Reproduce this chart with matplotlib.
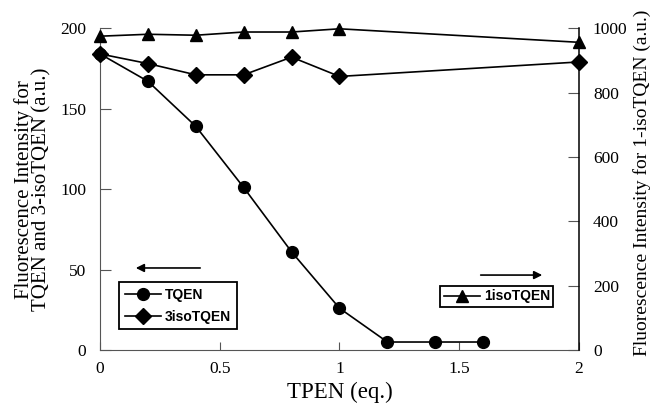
import matplotlib
matplotlib.use("Agg")
import matplotlib.pyplot as plt
from matplotlib.lines import Line2D

# data
x_tqen = [0, 0.2, 0.4, 0.6, 0.8, 1.0, 1.2, 1.4, 1.6]
y_tqen = [184, 167, 139, 101, 61, 26, 5, 5, 5]

x_3iso = [0, 0.2, 0.4, 0.6, 0.8, 1.0, 2.0]
y_3iso = [184, 178, 171, 171, 182, 170, 179]

x_1iso = [0, 0.2, 0.4, 0.6, 0.8, 1.0, 2.0]
y_1iso = [975, 981, 978, 988, 988, 998, 956]

xticks = [0, 0.5, 1, 1.5, 2]
xticklabels = ["0", "0.5", "1", "1.5", "2"]
yticks_left = [0, 50, 100, 150, 200]
yticks_right = [0, 200, 400, 600, 800, 1000]

serif = "Liberation Serif"
sans = "Liberation Sans"

fig = plt.figure(figsize=(6.51, 4.08), dpi=100)
ax = fig.add_axes([0.1536, 0.142, 0.7358, 0.789])
ax2 = ax.twinx()

ax.plot(x_tqen, y_tqen, color="black", lw=1.2, marker="o", ms=8.5, clip_on=False, zorder=3)
ax.plot(x_3iso, y_3iso, color="black", lw=1.2, marker="D", ms=7.8, clip_on=False, zorder=3)
ax2.plot(x_1iso, y_1iso, color="black", lw=1.2, marker="^", ms=9, clip_on=False, zorder=3)

ax.set_xlim(0, 2)
ax.set_ylim(0, 200)
ax2.set_ylim(0, 1000)

ax.set_xticks(xticks)
ax.set_xticklabels(xticklabels)
ax.set_yticks(yticks_left)
ax2.set_yticks(yticks_right)

for a in (ax, ax2):
    a.spines["top"].set_visible(False)
ax.spines["right"].set_visible(False)
ax.spines["left"].set_color("#555555")
ax.spines["bottom"].set_color("#555555")
ax.spines["left"].set_linewidth(0.8)
ax.spines["bottom"].set_linewidth(0.8)
ax2.spines["left"].set_visible(False)
ax2.spines["bottom"].set_visible(False)
ax2.spines["right"].set_linewidth(1.1)

ax.tick_params(axis="y", direction="in", length=8, width=0.8, color="#555555", pad=10)
ax.tick_params(axis="x", direction="in", length=6, width=0.8, color="#555555", pad=8)
ax2.tick_params(axis="y", direction="in", length=8, width=0.8, color="#555555", pad=10)

for lab in ax.get_xticklabels() + ax.get_yticklabels() + ax2.get_yticklabels():
    lab.set_fontfamily(serif)
    lab.set_fontsize(12.5)

ax.set_xlabel("TPEN (eq.)", fontfamily=serif, fontsize=16.5, labelpad=3)
ax.set_ylabel("Fluorescence Intensity for\nTQEN and 3-isoTQEN (a.u.)", fontfamily=serif,
              fontsize=15, linespacing=0.9, labelpad=6)
ax2.set_ylabel("Fluorescence Intensity for 1-isoTQEN (a.u.)", fontfamily=serif,
               fontsize=14)
ax2.yaxis.set_label_coords(1.112, 0.519)

# arrows pointing to the relevant axis
ax.annotate("", xy=(0.069, 0.255), xytext=(0.215, 0.255), xycoords="axes fraction",
            arrowprops=dict(arrowstyle="-|>", color="black", lw=1.2, mutation_scale=12))
ax.annotate("", xy=(0.929, 0.233), xytext=(0.789, 0.233), xycoords="axes fraction",
            arrowprops=dict(arrowstyle="-|>", color="black", lw=1.2, mutation_scale=12))

h1 = Line2D([], [], color="black", lw=1.2, marker="o", ms=8.5)
h2 = Line2D([], [], color="black", lw=1.2, marker="D", ms=7.8)
h3 = Line2D([], [], color="black", lw=1.2, marker="^", ms=9)

leg_props = dict(family=sans, weight="bold", size=10)
leg1 = ax.legend([h1, h2], ["TQEN", "3isoTQEN"], loc="lower left",
                 bbox_to_anchor=(0.04, 0.065), borderaxespad=0, fancybox=False,
                 edgecolor="black", prop=leg_props, handlelength=2.6,
                 handletextpad=0.3, borderpad=0.4, labelspacing=0.55, framealpha=1)
leg1.get_frame().set_linewidth(1.3)
leg1.set_zorder(5)

leg2 = ax2.legend([h3], ["1isoTQEN"], loc="lower left",
                  bbox_to_anchor=(0.71, 0.134), borderaxespad=0, fancybox=False,
                  edgecolor="black", prop=leg_props, handlelength=2.6,
                  handletextpad=0.3, borderpad=0.25, framealpha=1)
leg2.get_frame().set_linewidth(1.3)

fig.savefig("out.png", dpi=100)
